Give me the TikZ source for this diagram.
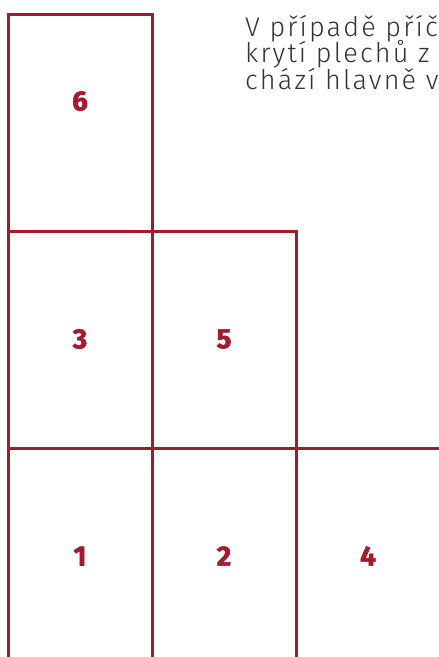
\documentclass[tikz,border=0pt]{standalone}
\usepackage{fontspec}
\setmainfont{Fira Sans}
\newfontfamily\lightfont{Fira Sans Light}[LetterSpace=8]
\newfontfamily\numfont{Fira Sans Bold}[FakeBold=2]
\definecolor{frame}{HTML}{A51A2D}
\definecolor{txt}{HTML}{333333}
\begin{document}
\begin{tikzpicture}[x=1pt,y=-1pt,
  gridline/.style={draw=frame,line width=3pt},
  num/.style={text=frame,font=\numfont\fontsize{28}{28}\selectfont,inner sep=0pt,anchor=center},
  body/.style={text=txt,font=\lightfont\fontsize{27}{26.5}\selectfont,inner sep=0pt,anchor=base west}]
\useasboundingbox (0,0) rectangle (439,657);
\clip (0,0) rectangle (439,657);
\fill[white] (0,0) rectangle (439,657);
% corner coordinates
\coordinate (a0) at (8,14);
\coordinate (a1) at (152,14);
\coordinate (b0) at (8,231);
\coordinate (b1) at (152,231);
\coordinate (b2) at (296,231);
\coordinate (c0) at (8,448);
\coordinate (c3) at (445,448);
\coordinate (d0) at (8,670);
\coordinate (d1) at (152,670);
\coordinate (d2) at (296,670);
\draw[gridline] (d0) -- (a0) -- (a1) -- (d1);
\draw[gridline] (b0) -- (b2) -- (d2);
\draw[gridline] (c0) -- (c3);
% labels
\node[num] (n6) at (80,101) {6};
\node[num] (n3) at (80,339) {3};
\node[num] (n5) at (224,339) {5};
\node[num] (n1) at (80,556) {1};
\node[num] (n2) at (224,556) {2};
\node[num] (n4) at (368,556) {4};
% text
\node[body] (t1) at (245,36) {V případě příčného};
\node[body] (t2) at (245,62.5) {krytí plechů z};
\node[body] (t3) at (245,89) {chází hlavně v};
\end{tikzpicture}
\end{document}
